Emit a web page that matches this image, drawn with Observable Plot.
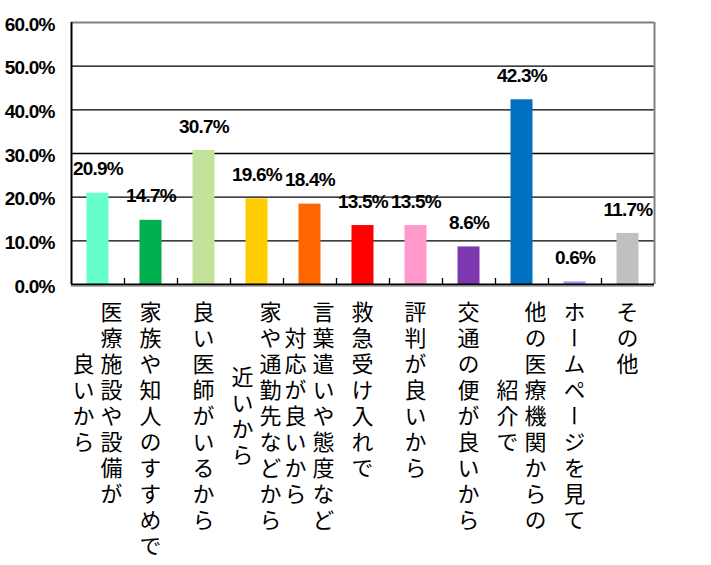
<!DOCTYPE html>
<html>
<head>
<meta charset="utf-8">
<script src="https://cdn.jsdelivr.net/npm/d3@7"></script>
<script src="https://cdn.jsdelivr.net/npm/@observablehq/plot@0.6"></script>
<style>
  html, body { margin: 0; padding: 0; background: #fff; }
  #wrap { position: relative; width: 711px; height: 565px; background: #fff; overflow: hidden; }
  .num text { letter-spacing: -0.8px; }
  .cat {
    position: absolute;
    writing-mode: vertical-rl;
    text-align: center;
    font-family: "Noto Sans CJK JP", sans-serif;
    font-size: 22px;
    letter-spacing: 4px;
    line-height: 28px;
    color: #000;
    white-space: nowrap;
    transform: translateX(-50%);
  }
</style>
</head>
<body>
<div id="wrap"></div>
<script>
// Categories (each label's lines are separated by "\n")
const categories = [
  "医療施設や設備が\n良いから",
  "家族や知人のすすめで",
  "良い医師がいるから",
  "家や通勤先などから\n近いから",
  "言葉遣いや態度など\n対応が良いから",
  "救急受け入れで",
  "評判が良いから",
  "交通の便が良いから",
  "他の医療機関からの\n紹介で",
  "ホームページを見て",
  "その他"
];
const values = [20.9, 14.7, 30.7, 19.6, 18.4, 13.5, 13.5, 8.6, 42.3, 0.6, 11.7];
const colors = ["#66FFCC", "#00B050", "#C3E39A", "#FFCC00", "#FF6600", "#FF0000", "#FF99CC", "#7D38B0", "#0070C0", "#9999FF", "#C0C0C0"];
const yTicks = [0, 10, 20, 30, 40, 50, 60];
const gridLines = [10, 20, 30, 40, 50];

const data = categories.map((c, i) => ({cat: c, value: values[i], color: colors[i]}));

const W = 711, mL = 71, mR = 57;
const step = (W - mL - mR) / categories.length;
const numFont = "'Liberation Sans', Arial, sans-serif";

const chart = Plot.plot({
  width: W,
  height: 295,
  marginLeft: mL,
  marginRight: mR,
  marginTop: 22,
  marginBottom: 11,
  style: {background: "transparent", overflow: "visible"},
  x: {domain: categories, padding: 0, axis: null},
  y: {domain: [0, 60], axis: null},
  marks: [
    Plot.ruleY(gridLines, {stroke: "#000", strokeWidth: 1.3}),
    Plot.ruleY([60], {stroke: "#808080", strokeWidth: 2}),
    Plot.ruleX([categories[categories.length - 1]], {dx: step / 2, stroke: "#808080", strokeWidth: 2}),
    Plot.barY(data, {x: "cat", y: "value", fill: "color", insetLeft: 15.5, insetRight: 15.5}),
    Plot.ruleX(categories.slice(1), {dx: -step / 2, insetTop: 256, stroke: "#000", strokeWidth: 1.3}),
    Plot.ruleX([categories[0]], {dx: -step / 2, stroke: "#000", strokeWidth: 2}),
    Plot.ruleY([0], {stroke: "#000", strokeWidth: 2}),
    Plot.ruleY([0], {stroke: "#b0b0b0", strokeWidth: 1, dy: 2}),
    Plot.text(yTicks, {
      y: d => d, text: d => d.toFixed(1) + "%",
      frameAnchor: "left", textAnchor: "end", dx: -17, dy: 2,
      className: "num",
      fontFamily: numFont, fontSize: 19, fontWeight: "bold", fill: "#000"
    }),
    Plot.text(data, {
      x: "cat", y: "value", text: d => d.value.toFixed(1) + "%",
      dy: -24,
      className: "num",
      fontFamily: numFont, fontSize: 19, fontWeight: "bold", fill: "#000"
    })
  ]
});

const wrap = document.getElementById("wrap");
chart.style.position = "absolute";
chart.style.left = "0px";
chart.style.top = "0px";
wrap.appendChild(chart);

const xs = chart.scale("x");
categories.forEach(c => {
  const div = document.createElement("div");
  div.className = "cat";
  const cx = xs.apply(c) + xs.bandwidth / 2;
  div.style.left = cx + "px";
  div.style.top = "301px";
  div.innerHTML = c.split("\n").map(s => s.replace(/&/g, "&amp;").replace(/</g, "&lt;")).join("<br>");
  wrap.appendChild(div);
});
</script>
</body>
</html>
